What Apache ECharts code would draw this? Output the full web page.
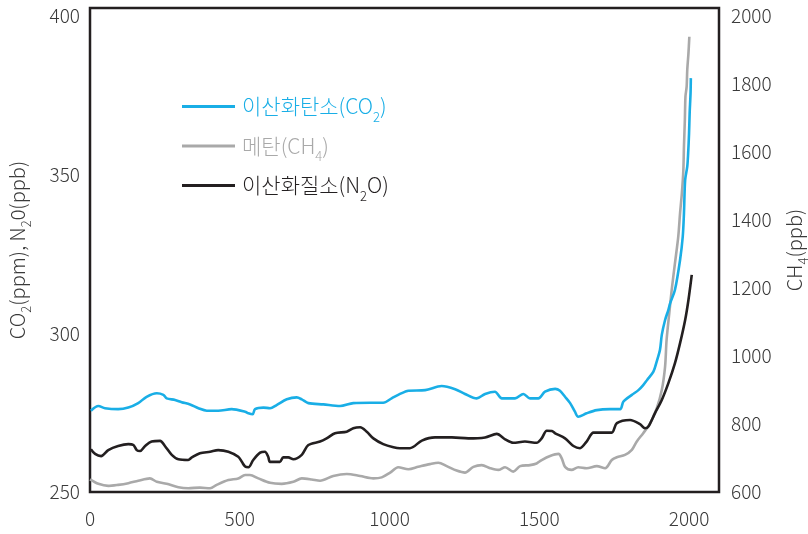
<!DOCTYPE html>
<html>
<head>
<meta charset="utf-8">
<script src="https://cdn.jsdelivr.net/npm/echarts@6/dist/echarts.min.js"></script>
<style>
  html, body { margin: 0; padding: 0; background: #fff; }
  #chart { width: 808px; height: 534px; }
</style>
</head>
<body>
<div id="chart"></div>
<script>
// Atmospheric CO2 (ppm), CH4 (ppb) and N2O (ppb) over the last two millennia
const co2Years = [3,28,50,94,128,161,189,223,245,256,284,306,334,362,390,428,473,518,529,543,551,579,601,623,657,690,707,729,779,835,879,935,979,1007,1035,1063,1119,1174,1219,1252,1291,1319,1352,1375,1419,1447,1469,1497,1519,1553,1569,1586,1603,1619,1630,1658,1692,1736,1770,1781,1809,1831,1847,1860,1881,1892,1903,1909,1920,1931,1937,1953,1970,1979,1983,1987,1994,1997,2000,2002,2005,2006];
const co2Values = [275.6,277.1,276.4,276.1,276.6,278.0,280.0,281.1,280.6,279.5,279.0,278.3,277.6,276.4,275.6,275.6,276.1,275.3,274.8,274.5,276.1,276.6,276.4,277.4,279.2,279.8,279.2,278.0,277.6,277.1,278.0,278.1,278.1,279.5,280.9,281.9,282.1,283.4,282.4,280.9,279.5,280.9,281.6,279.5,279.5,280.9,279.5,279.5,281.6,282.5,281.9,280.0,278.0,275.3,273.7,274.8,275.8,276.1,276.1,278.5,280.6,282.1,283.7,285.3,287.9,291.1,294.8,299.5,304.2,307.4,309.5,313.7,323.1,330.5,337.8,348.3,352.5,356.7,363.0,369.3,375.6,380.4];

const ch4Years = [0,28,61,94,128,161,200,223,256,295,328,367,401,423,462,495,518,534,562,601,640,679,707,740,768,812,857,902,946,974,1002,1029,1063,1096,1135,1163,1191,1224,1252,1280,1308,1336,1363,1386,1413,1436,1469,1491,1508,1536,1564,1575,1586,1608,1630,1658,1692,1720,1742,1759,1786,1809,1825,1847,1870,1892,1909,1920,1925,1934,1942,1953,1964,1970,1976,1981,1983,1986,1988,1992,1994,1998,2001];
const ch4Values = [637,624,618,621,626,633,640,630,624,614,611,613,611,621,635,640,650,650,640,627,624,630,640,637,633,647,653,647,640,643,657,673,667,674,682,686,676,663,657,674,679,670,665,673,660,676,679,684,694,706,712,699,674,665,673,670,676,670,694,702,709,724,748,773,802,846,900,969,1047,1126,1194,1273,1351,1420,1478,1547,1616,1694,1763,1792,1841,1890,1939];

const n2oYears = [3,17,37,61,94,128,145,156,167,184,206,234,250,273,295,328,340,367,401,428,462,495,507,518,529,545,568,584,595,601,634,645,662,679,707,729,768,790,818,857,879,902,924,946,979,1013,1035,1068,1108,1152,1208,1263,1319,1358,1386,1413,1452,1491,1508,1525,1542,1553,1586,1614,1636,1658,1681,1708,1742,1759,1803,1836,1853,1864,1886,1909,1931,1953,1970,1987,1998,2009];
const n2oValues = [263.5,262.0,261.3,263.2,264.5,265.1,264.8,263.2,262.9,264.5,265.9,266.1,264.5,261.7,260.3,260.1,260.9,262.2,262.7,263.2,262.7,261.1,259.5,258.0,257.8,260.1,262.4,262.7,261.1,259.5,259.5,260.9,260.9,260.3,261.7,264.8,265.9,266.9,268.5,269.0,270.1,270.4,269.0,266.9,265.1,264.1,263.8,263.8,266.2,267.2,267.2,266.9,267.2,268.3,266.6,265.5,265.9,265.5,266.9,269.3,269.2,268.5,266.9,264.5,263.8,265.9,268.7,268.7,268.7,271.7,272.7,271.4,270.1,270.6,274.8,279.0,284.3,290.6,296.9,304.2,310.5,318.4];

const xTicks = [0, 500, 1000, 1500, 2000];
const leftTicks = [250, 300, 350, 400];
const rightTicks = [600, 800, 1000, 1200, 1400, 1600, 1800, 2000];

const seriesNames = ['co2', 'ch4', 'n2o'];
const legendText = {
  co2: '{c|이산화탄소(CO}{cs|2}{c|)}',
  ch4: '{g|메탄(CH}{gs|4}{g|)}',
  n2o: '{k|이산화질소(N}{ks|2}{k|O)}'
};

const BLUE = '#19aee6';
const GRAY = '#a9a9a9';
const BLACK = '#231f20';
const TEXT = '#3a3a3a';
const FONT = '"Noto Sans CJK KR", "Noto Sans", sans-serif';

function zip(xs, ys) { return xs.map((x, i) => [x, ys[i]]); }

function sub(color) {
  return { color: color, fontSize: 13, fontWeight: 300, fontFamily: FONT, lineHeight: 28, verticalAlign: 'bottom', padding: [0, 0, -3, 0] };
}
function main(color, size) {
  return { color: color, fontSize: size, fontWeight: 300, fontFamily: FONT, lineHeight: 28 };
}
function nameRich() {
  return {
    a: { color: TEXT, fontSize: 20, fontWeight: 300, fontFamily: FONT, lineHeight: 26 },
    s: { color: TEXT, fontSize: 13, fontWeight: 300, fontFamily: FONT, lineHeight: 26, verticalAlign: 'bottom', padding: [0, 0, -3, 0] }
  };
}

const chart = echarts.init(document.getElementById('chart'), null, { renderer: 'canvas' });

chart.setOption({
  animation: false,
  backgroundColor: '#fff',
  grid: {
    left: 90, right: 89, top: 8, bottom: 42,
    outerBoundsMode: 'none', containLabel: false,
    show: true, borderColor: '#231f20', borderWidth: 2.5, backgroundColor: 'transparent'
  },
  legend: {
    orient: 'vertical',
    left: 177, top: 91,
    itemWidth: 53, itemHeight: 3, itemGap: 12,
    icon: 'rect',
    data: seriesNames,
    formatter: name => legendText[name],
    textStyle: {
      padding: [0, 0, 0, 2],
      rich: {
        c: main(BLUE, 21), cs: sub(BLUE),
        g: main(GRAY, 21), gs: sub(GRAY),
        k: main(BLACK, 21), ks: sub(BLACK)
      }
    }
  },
  xAxis: {
    type: 'value', min: 0, max: 2100, interval: 500,
    axisLine: { show: false }, axisTick: { show: false }, splitLine: { show: false },
    axisLabel: {
      margin: 17, color: TEXT, fontSize: 19, fontWeight: 300, fontFamily: FONT,
      formatter: v => xTicks.includes(v) ? String(v) : ''
    }
  },
  yAxis: [
    {
      type: 'value', min: 250, max: 402.5, interval: 50, position: 'left',
      axisLine: { show: false }, axisTick: { show: false }, splitLine: { show: false },
      axisLabel: {
        margin: 10, color: TEXT, fontSize: 19, fontWeight: 300, fontFamily: FONT,
        formatter: v => leftTicks.includes(v) ? String(v) : ''
      },
      name: '{a|CO}{s|2}{a|(ppm), N}{s|2}{a|0(ppb)}',
      nameLocation: 'middle', nameRotate: 90, nameGap: 60,
      nameTextStyle: { rich: nameRich() }
    },
    {
      type: 'value', min: 600, max: 2023.5, interval: 200, position: 'right',
      axisLine: { show: false }, axisTick: { show: false }, splitLine: { show: false },
      axisLabel: {
        margin: 12, color: TEXT, fontSize: 19, fontWeight: 300, fontFamily: FONT,
        formatter: v => rightTicks.includes(v) ? String(v) : ''
      },
      name: '{a|CH}{s|4}{a|(ppb)}',
      nameLocation: 'middle', nameRotate: 90, nameGap: 62,
      nameTextStyle: { rich: nameRich() }
    }
  ],
  series: [
    {
      name: 'ch4', type: 'line', yAxisIndex: 1, data: zip(ch4Years, ch4Values),
      showSymbol: false, smooth: 0.3, color: GRAY,
      lineStyle: { width: 2.6, color: GRAY }
    },
    {
      name: 'n2o', type: 'line', yAxisIndex: 0, data: zip(n2oYears, n2oValues),
      showSymbol: false, smooth: 0.3, color: BLACK,
      lineStyle: { width: 2.6, color: BLACK }
    },
    {
      name: 'co2', type: 'line', yAxisIndex: 0, data: zip(co2Years, co2Values),
      showSymbol: false, smooth: 0.3, color: BLUE,
      lineStyle: { width: 2.6, color: BLUE }
    }
  ]
});
</script>
</body>
</html>
